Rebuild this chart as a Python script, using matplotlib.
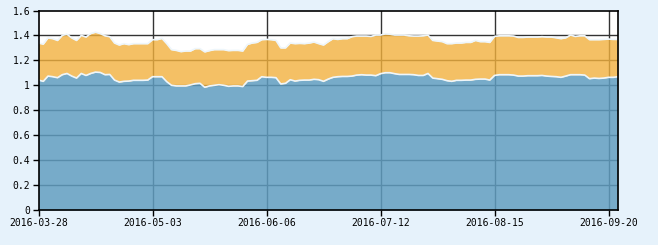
import numpy as np
import matplotlib
matplotlib.use("Agg")
import matplotlib.pyplot as plt

tick_labels = ["2016-03-28", "2016-05-03", "2016-06-06", "2016-07-12", "2016-08-15", "2016-09-20"]
tick_index = [0, 24, 48, 72, 96, 120]

series_blue = [1.042, 1.032, 1.074, 1.069, 1.061, 1.085, 1.095, 1.074, 1.058, 1.095,
               1.079, 1.095, 1.106, 1.103, 1.085, 1.087, 1.042, 1.026, 1.032, 1.034,
               1.040, 1.040, 1.040, 1.042, 1.069, 1.069, 1.069, 1.029, 1.000, 0.995,
               0.995, 0.995, 1.003, 1.013, 1.016, 0.984, 0.995, 1.000, 1.005, 1.000,
               0.992, 0.995, 0.995, 0.990, 1.034, 1.037, 1.040, 1.069, 1.064, 1.064,
               1.061, 1.011, 1.016, 1.045, 1.034, 1.040, 1.042, 1.042, 1.048, 1.045,
               1.032, 1.050, 1.064, 1.069, 1.071, 1.071, 1.074, 1.082, 1.085, 1.082,
               1.082, 1.077, 1.093, 1.101, 1.101, 1.093, 1.087, 1.087, 1.087, 1.085,
               1.079, 1.079, 1.095, 1.058, 1.053, 1.048, 1.037, 1.032, 1.040, 1.040,
               1.042, 1.042, 1.048, 1.050, 1.050, 1.042, 1.079, 1.085, 1.085, 1.085,
               1.082, 1.074, 1.074, 1.077, 1.077, 1.077, 1.079, 1.074, 1.071, 1.069,
               1.064, 1.074, 1.085, 1.085, 1.085, 1.082, 1.053, 1.058, 1.055, 1.058,
               1.064, 1.064, 1.069]

series_orange = [0.297, 0.298, 0.306, 0.305, 0.299, 0.315, 0.315, 0.306, 0.302, 0.305,
                 0.308, 0.320, 0.320, 0.312, 0.312, 0.303, 0.297, 0.297, 0.302, 0.292,
                 0.294, 0.294, 0.294, 0.292, 0.297, 0.297, 0.307, 0.305, 0.286, 0.285,
                 0.275, 0.280, 0.272, 0.281, 0.278, 0.284, 0.283, 0.286, 0.281, 0.286,
                 0.286, 0.285, 0.285, 0.285, 0.294, 0.302, 0.304, 0.297, 0.304, 0.302,
                 0.299, 0.289, 0.284, 0.294, 0.300, 0.296, 0.292, 0.297, 0.299, 0.289,
                 0.291, 0.300, 0.310, 0.299, 0.303, 0.303, 0.316, 0.313, 0.310, 0.313,
                 0.310, 0.326, 0.310, 0.312, 0.309, 0.310, 0.316, 0.316, 0.310, 0.310,
                 0.316, 0.318, 0.308, 0.302, 0.302, 0.302, 0.297, 0.302, 0.299, 0.299,
                 0.302, 0.302, 0.312, 0.300, 0.300, 0.302, 0.313, 0.312, 0.312, 0.312,
                 0.313, 0.310, 0.310, 0.310, 0.310, 0.310, 0.311, 0.313, 0.316, 0.312,
                 0.310, 0.307, 0.318, 0.307, 0.312, 0.315, 0.313, 0.308, 0.311, 0.310,
                 0.307, 0.304, 0.299]

y_ticks = [0, 0.2, 0.4, 0.6, 0.8, 1, 1.2, 1.4, 1.6]
y_tick_labels = ["0", "0.2", "0.4", "0.6", "0.8", "1", "1.2", "1.4", "1.6"]

x = np.arange(len(series_blue))
blue = np.array(series_blue)
orange = np.array(series_orange)
top = blue + orange

fig = plt.figure(figsize=(6.58, 2.45), dpi=100, facecolor="#e6f2fb")
ax = fig.add_axes([38.5 / 658, 35 / 245, (618 - 38.5) / 658, (210 - 10.5) / 245])
ax.set_facecolor("white")

ax.set_xlim(0, len(x) - 1)
ax.set_ylim(0, 1.6)

# grid drawn beneath semi-transparent areas
ax.set_axisbelow(True)
for yv in y_ticks[1:-1]:
    ax.axhline(yv, color="#333333", lw=1.0, zorder=1)
for xv in tick_index[1:]:
    ax.axvline(xv, color="#333333", lw=1.0, zorder=1)

ax.fill_between(x, 0, blue, color="#5f9dc0", alpha=0.85, lw=0, zorder=2)
ax.fill_between(x, blue, top, color="#f2b13e", alpha=0.8, lw=0, zorder=2)
ax.plot(x, blue, color="#eef6fb", lw=1.2, zorder=3)
ax.plot(x, top, color="#eef6fb", lw=1.2, zorder=3)

ax.set_xticks(tick_index)
ax.set_xticklabels(tick_labels)
ax.set_yticks(y_ticks)
ax.set_yticklabels(y_tick_labels)
for lab in ax.get_xticklabels() + ax.get_yticklabels():
    lab.set_fontfamily("DejaVu Sans Mono")
    lab.set_fontsize(7)
    lab.set_color("black")
ax.tick_params(axis="both", direction="out", length=4, width=1, color="black", pad=2)

for s in ax.spines.values():
    s.set_color("black")
    s.set_linewidth(1.2)
    s.set_zorder(5)

fig.savefig("out.png", dpi=100, facecolor=fig.get_facecolor())
